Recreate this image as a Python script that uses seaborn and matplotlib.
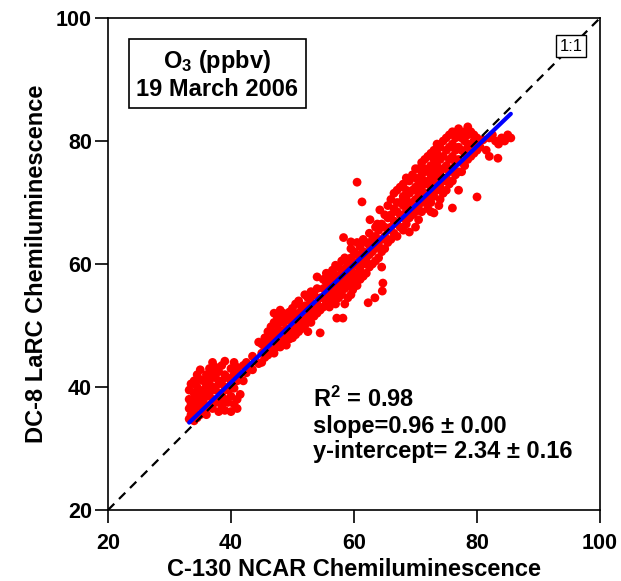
import numpy as np
import pandas as pd
import matplotlib
matplotlib.use("Agg")
import matplotlib.pyplot as plt
import seaborn as sns

# O3 (ppbv), 19 March 2006: C-130 NCAR (x) vs DC-8 LaRC (y)
# values, grouped in columns of x with the y values seen there
low_x = [33.2, 33.5, 34.0, 34.5, 35.0, 35.5, 36.0, 36.5, 37.0, 37.5,
         38.0, 38.5, 39.0, 39.5, 40.0, 40.5, 41.0, 41.5, 42.0]
low_y = [[34.8, 36.5, 38.0, 39.5], [35.5, 37.2, 40.5], [34.5, 36.0, 37.5, 39.0, 41.0],
         [35.0, 36.8, 38.2, 40.0, 42.0], [35.5, 37.0, 38.8, 41.2, 42.8],
         [36.0, 37.8, 39.5, 41.0], [35.5, 36.8, 38.5, 40.2, 42.0],
         [37.0, 39.0, 41.0, 43.0], [36.5, 38.0, 40.0, 42.0, 44.0],
         [37.5, 39.5, 41.5, 43.2], [36.0, 38.2, 40.5, 42.5], [37.0, 39.0, 41.0, 43.5],
         [36.2, 38.0, 40.0, 42.0, 44.2], [37.5, 39.5, 41.5], [36.0, 38.5, 40.5, 43.0],
         [37.2, 39.8, 42.0, 44.0], [36.5, 38.0, 41.0, 43.2], [38.8, 42.2], [41.0, 43.5]]

mid_x = [42.5, 43.0, 43.5, 44.0, 44.5, 45.0, 45.5, 46.0, 46.5, 47.0, 47.5, 48.0,
         48.5, 49.0, 49.5, 50.0, 50.5, 51.0, 51.5, 52.0, 52.5, 53.0, 53.5, 54.0, 54.5]
mid_y = [[42.3, 44.0], [43.5], [42.8, 45.0], [44.2], [43.8, 47.3], [44.0, 45.5, 47.0],
         [44.8, 46.2, 48.0], [45.2, 47.0, 49.0], [45.8, 47.8, 49.8],
         [45.5, 47.0, 48.8, 50.5, 52.0], [46.5, 48.0, 50.0, 51.5],
         [46.5, 47.5, 49.2, 51.0, 52.5], [47.0, 48.5, 50.5, 52.0],
         [46.8, 48.2, 49.5, 51.5], [47.8, 49.0, 50.8, 52.2], [48.0, 49.5, 51.0, 52.8],
         [48.5, 50.0, 51.8, 53.5], [49.0, 50.5, 52.0, 54.0], [49.5, 51.0, 52.8],
         [50.0, 51.5, 53.2, 55.0], [49.0, 51.0, 52.5, 54.5], [50.5, 52.0, 53.8, 55.5],
         [51.5, 53.0, 55.0], [52.0, 53.5, 56.0, 57.9], [48.8, 52.5, 54.5]]

ctr_x = [55.0, 55.5, 56.0, 56.5, 57.0, 57.5, 58.0, 58.5, 59.0, 59.5, 60.0, 60.5,
         61.0, 61.5, 62.0, 62.5, 63.0, 63.5, 64.0, 64.5]
ctr_y = [[53.0, 54.5, 56.0, 57.5], [53.8, 55.2, 57.0, 58.5], [53.0, 54.5, 56.0, 57.8],
         [54.0, 55.5, 57.2, 59.0], [53.5, 55.0, 56.5, 58.2, 59.8],
         [54.5, 56.0, 57.8, 59.5], [55.0, 56.8, 58.5, 60.5],
         [53.5, 56.0, 57.5, 59.2, 61.0], [54.5, 56.5, 58.0, 60.0],
         [55.0, 57.5, 59.0, 61.0, 62.5], [57.0, 58.5, 60.2, 62.0],
         [56.5, 58.0, 59.8, 61.5, 63.5], [57.5, 59.0, 61.0, 62.8],
         [58.0, 60.0, 62.0, 64.0], [58.5, 60.5, 61.8, 63.5], [59.5, 61.5, 63.0, 65.0],
         [60.0, 62.0, 64.0], [60.5, 62.6, 64.5, 66.0], [61.0, 63.0, 65.5],
         [59.5, 62.0, 64.0, 66.5]]

top_x = [65.0, 65.5, 66.0, 66.5, 67.0, 67.5, 68.0, 68.5, 69.0, 69.5, 70.0, 70.5,
         71.0, 71.5, 72.0, 72.5, 73.0, 73.5, 74.0, 74.5, 75.0, 75.5, 76.0, 76.5,
         77.0, 77.5, 78.0, 78.5, 79.0, 79.5, 80.0, 80.5]
top_y = [[62.5, 64.5, 66.0, 68.0], [63.5, 65.5, 67.5, 69.5], [64.0, 66.0, 68.0, 70.5],
         [65.0, 67.0, 69.0, 71.5], [64.5, 66.5, 68.5, 70.0, 72.0],
         [66.0, 68.0, 70.0, 72.5], [65.5, 67.5, 69.5, 71.0, 73.0],
         [66.5, 68.5, 70.5, 72.0, 74.0], [65.2, 67.5, 69.5, 71.5, 73.5],
         [68.0, 70.0, 72.0, 74.5], [66.0, 68.5, 70.5, 72.5, 74.0, 75.5],
         [67.2, 69.5, 71.5, 73.5, 75.5], [68.5, 70.5, 72.5, 74.5, 76.5],
         [70.0, 71.5, 73.5, 75.5, 77.0], [69.0, 71.0, 73.0, 75.0, 77.5],
         [70.0, 72.0, 74.0, 76.0, 78.0], [68.3, 71.0, 73.0, 75.0, 77.0, 78.5],
         [72.0, 74.0, 76.0, 78.0, 79.5], [70.5, 72.5, 75.0, 77.0, 79.0],
         [71.5, 73.5, 75.5, 77.5, 80.0], [72.0, 74.0, 76.0, 78.5, 80.5],
         [73.0, 75.0, 77.0, 79.0, 81.0], [69.1, 73.5, 75.5, 77.5, 79.5, 81.5],
         [74.5, 76.5, 78.5, 80.5], [72.0, 75.0, 77.0, 79.0, 81.0, 82.0],
         [75.0, 76.5, 78.5, 80.5], [76.0, 78.0, 80.0, 81.5], [77.0, 79.0, 81.0, 82.3],
         [77.5, 79.5, 81.5], [78.0, 80.0, 81.0], [70.9, 78.5, 79.5, 80.5], [79.0, 80.0]]

# isolated points and the tail at high ozone
stray_x = [57.2, 58.2, 59.8, 62.3, 63.4, 64.6, 64.7, 60.5, 61.3, 58.3, 59.5, 62.6,
           63.8, 64.2, 72.5, 73.8, 81.0, 81.5, 82.0, 82.0, 82.5, 83.0, 83.4, 83.5,
           84.0, 84.5, 85.0, 85.5]
stray_y = [51.2, 51.2, 55.8, 53.7, 54.5, 55.6, 56.9, 73.3, 70.1, 64.3, 63.6, 67.2,
           66.5, 68.8, 68.5, 69.5, 80.2, 78.5, 80.5, 77.5, 81.0, 80.0, 77.2, 79.5,
           80.5, 80.0, 81.0, 80.5]

# linear fit reported on the plot
SLOPE = 0.96
INTERCEPT = 2.34
AXIS_RANGE = [20, 100]
TICKS = [20, 40, 60, 80, 100]


def expand(xs, ys):
    px, py = [], []
    for x, col in zip(xs, ys):
        for y in col:
            px.append(x)
            py.append(y)
    return px, py


sns.set_style("ticks")
plt.rcParams['font.family'] = ['Liberation Sans', 'DejaVu Sans']
plt.rcParams['font.weight'] = 'bold'
plt.rcParams['axes.labelweight'] = 'bold'
plt.rcParams['text.color'] = 'black'
plt.rcParams['axes.labelcolor'] = 'black'
plt.rcParams['xtick.color'] = 'black'
plt.rcParams['ytick.color'] = 'black'
plt.rcParams['mathtext.fontset'] = 'custom'
plt.rcParams['mathtext.rm'] = 'Liberation Sans:bold'
plt.rcParams['mathtext.it'] = 'Liberation Sans:bold'
plt.rcParams['mathtext.bf'] = 'Liberation Sans:bold'
plt.rcParams['mathtext.default'] = 'rm'

xs, ys = [], []
for a, b in [(low_x, low_y), (mid_x, mid_y), (ctr_x, ctr_y), (top_x, top_y)]:
    px, py = expand(a, b)
    xs += px
    ys += py
xs += stray_x
ys += stray_y
df = pd.DataFrame({'c130': xs, 'dc8': ys})

fig = plt.figure(figsize=(6.21, 5.81), dpi=100)
ax = fig.add_axes([0.1739, 0.1222, 0.7923, 0.8468])

sns.scatterplot(data=df, x='c130', y='dc8', color='#ff0000', s=40,
                edgecolor='none', linewidth=0, ax=ax, zorder=2, legend=False)

fit = pd.DataFrame({'x': [df.c130.min(), df.c130.max()]})
fit['y'] = SLOPE * fit['x'] + INTERCEPT
sns.lineplot(data=fit, x='x', y='y', color='#0000ff', linewidth=3, ax=ax, zorder=3)

ax.plot(AXIS_RANGE, AXIS_RANGE, color='black', linewidth=1.6,
        linestyle=(0, (4, 3)), zorder=4)

ax.text(95.3, 95.4, "1:1", fontsize=12, fontweight='normal', ha='center', va='center',
        zorder=5, bbox=dict(boxstyle='square,pad=0.2', fc='white', ec='black', lw=1))

ax.text(37.8, 90.8, "O$_3$ (ppbv)\n19 March 2006", fontsize=17, ha='center', va='center',
        linespacing=1.15, zorder=5,
        bbox=dict(boxstyle='square,pad=0.3', fc='white', ec='black', lw=1.2))

ax.text(53.3, 36.75, "R$^2$ = 0.98", fontsize=17, ha='left', va='baseline')
ax.text(53.3, 32.5, "slope=0.96 \u00b1 0.00", fontsize=17, ha='left', va='baseline')
ax.text(53.3, 28.45, "y-intercept= 2.34 \u00b1 0.16", fontsize=17, ha='left', va='baseline')

ax.set_xlim(AXIS_RANGE)
ax.set_ylim(AXIS_RANGE)
ax.set_xticks(TICKS)
ax.set_yticks(TICKS)
ax.tick_params(direction='out', length=9.5, width=1.2, labelsize=15.5,
               top=False, right=False)
ax.tick_params(axis='x', pad=7)
ax.tick_params(axis='y', pad=2)
for s in ax.spines.values():
    s.set_linewidth(1.2)
    s.set_color('black')

ax.set_xlabel("C-130 NCAR Chemiluminescence", fontsize=17, labelpad=3)
ax.set_ylabel("DC-8 LaRC Chemiluminescence", fontsize=17, labelpad=6)

fig.savefig("out.png", dpi=100)
